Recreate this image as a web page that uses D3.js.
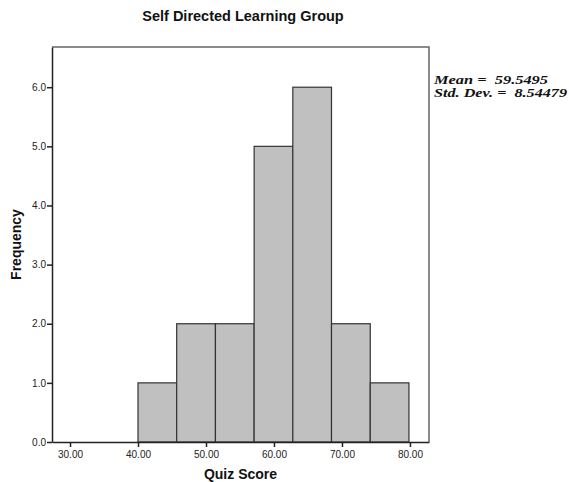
<!DOCTYPE html>
<html lang="en">
<head>
    <meta charset="UTF-8">
    <title>Self Directed Learning Group</title>
    <style>
        body {
            margin: 0;
            padding: 0;
            background: #fff;
            overflow: hidden;
        }

        .tick-label {
            font-family: "Liberation Sans", Arial, sans-serif;
            font-size: 10px;
            fill: #222;
        }

        .axis-title {
            font-family: "Liberation Sans", Arial, sans-serif;
            font-size: 14px;
            font-weight: bold;
            fill: #111;
        }

        .chart-title {
            font-family: "Liberation Sans", Arial, sans-serif;
            font-size: 14.5px;
            font-weight: bold;
            fill: #111;
        }

        .stats {
            font-family: "Liberation Serif", "Times New Roman", serif;
            font-size: 13.5px;
            font-weight: bold;
            font-style: italic;
            white-space: pre;
            fill: #111;
        }
    </style>
    <script src="https://d3js.org/d3.v7.min.js"></script>
</head>
<body>
    <div id="chart"></div>

    <script>
        // histogram bins
        const binStarts = [40.00, 45.69, 51.39, 57.08, 62.77, 68.46, 74.16];
        const binEnds = [45.69, 51.39, 57.08, 62.77, 68.46, 74.16, 79.85];
        const counts = [1, 2, 2, 5, 6, 2, 1];

        const xTicks = [30, 40, 50, 60, 70, 80];
        const yTicks = [0, 1, 2, 3, 4, 5, 6];

        const statLines = ['Mean =  59.5495', 'Std. Dev. =  8.54479'];

        const width = 569, height = 482;
        const margin = { left: 52, right: 140, top: 47, bottom: 40 };

        const svg = d3.select('#chart')
            .append('svg')
            .attr('width', width)
            .attr('height', height);

        const x = d3.scaleLinear()
            .domain([27.35, 82.8])
            .range([margin.left, width - margin.right]);

        const y = d3.scaleLinear()
            .domain([0, 6.68])
            .range([height - margin.bottom, margin.top]);

        // frame (top and right)
        svg.append('path')
            .attr('d', `M${x.range()[0]},${y.range()[1]}H${x.range()[1]}V${y.range()[0]}`)
            .attr('fill', 'none')
            .attr('stroke', '#666')
            .attr('stroke-width', 1.5);

        // bars
        const bins = counts.map((c, i) => ({ x0: binStarts[i], x1: binEnds[i], n: c }));

        svg.selectAll('.bar')
            .data(bins)
            .enter().append('rect')
            .attr('class', 'bar')
            .attr('x', d => x(d.x0))
            .attr('width', d => x(d.x1) - x(d.x0))
            .attr('y', d => y(d.n))
            .attr('height', d => y(0) - y(d.n))
            .attr('fill', '#c0c0c0')
            .attr('stroke', '#333')
            .attr('stroke-width', 1.2);

        // y axis
        const yAxis = svg.append('g')
            .attr('transform', `translate(${margin.left},0)`)
            .call(d3.axisLeft(y).tickValues(yTicks).tickFormat(d3.format('.1f')).tickSize(5).tickSizeOuter(0));

        // x axis
        const xAxis = svg.append('g')
            .attr('transform', `translate(0,${height - margin.bottom})`)
            .call(d3.axisBottom(x).tickValues(xTicks).tickFormat(d3.format('.2f')).tickSize(5).tickSizeOuter(0));

        [yAxis, xAxis].forEach(g => {
            g.select('.domain').attr('stroke', '#222').attr('stroke-width', 1.5);
            g.selectAll('.tick line').attr('stroke', '#222').attr('stroke-width', 1.5);
            g.selectAll('.tick text')
                .attr('class', 'tick-label')
                .attr('fill', null)
                .attr('font-family', null)
                .attr('font-size', null);
        });
        yAxis.selectAll('.tick text').attr('x', -6);
        xAxis.selectAll('.tick text').attr('y', 9);

        // titles
        svg.append('text')
            .attr('class', 'chart-title')
            .attr('x', 243)
            .attr('y', 21)
            .attr('text-anchor', 'middle')
            .text('Self Directed Learning Group');

        svg.append('text')
            .attr('class', 'axis-title')
            .attr('x', (x.range()[0] + x.range()[1]) / 2)
            .attr('y', 479)
            .attr('text-anchor', 'middle')
            .text('Quiz Score');

        svg.append('text')
            .attr('class', 'axis-title')
            .attr('transform', `translate(21,${(y.range()[0] + y.range()[1]) / 2}) rotate(-90)`)
            .attr('text-anchor', 'middle')
            .text('Frequency');

        // mean / sd text, stretched to the wide look of the original
        const statWidths = [114, 133];
        svg.selectAll('.stats')
            .data(statLines)
            .enter().append('text')
            .attr('class', 'stats')
            .attr('x', 434)
            .attr('y', (d, i) => 83.5 + i * 13.5)
            .attr('textLength', (d, i) => statWidths[i])
            .attr('lengthAdjust', 'spacingAndGlyphs')
            .text(d => d);
    </script>
</body>
</html>
